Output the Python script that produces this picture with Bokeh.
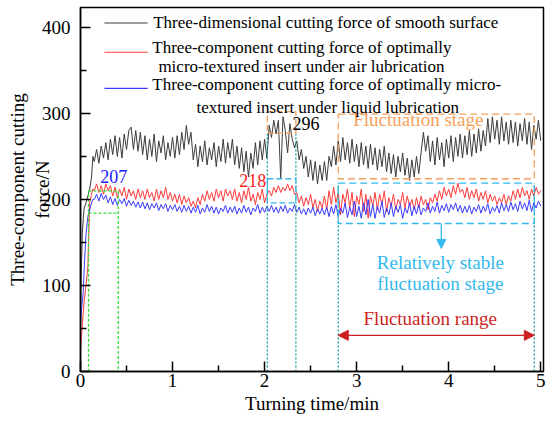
import numpy as np
from bokeh.plotting import figure
from bokeh.models import Label, Arrow, NormalHead, FixedTicker, Range1d
from bokeh.embed import file_html
from bokeh.resources import INLINE

# ---------------- data ----------------
time_ramp = [0.0, 0.01, 0.02, 0.03, 0.04, 0.06, 0.08, 0.10, 0.12, 0.135]
time_main = list(np.round(0.15 + 0.025 * np.arange(195), 3))   # 0.15 ... 5.0 min
time_min = time_ramp + time_main

smooth_ramp = [60, 120, 160, 178, 190, 196, 204, 212, 226, 250]
smooth_main = [
    244, 258, 242, 262, 248, 266, 246, 270, 252, 274, 250, 272, 248, 276, 258, 280, 284, 258, 280, 256,
    278, 252, 274, 246, 270, 250, 276, 244, 268, 254, 274, 246, 266, 250, 272, 248, 274, 252, 278, 258,
    286, 264, 278, 246, 264, 238, 262, 244, 268, 240, 260, 246, 266, 238, 262, 244, 270, 242, 266, 248,
    270, 240, 262, 236, 260, 232, 256, 226, 254, 236, 266, 240, 268, 246, 270, 248, 286, 272, 292, 276,
    292, 224, 296, 280, 254, 288, 270, 260, 268, 246, 258, 236, 250, 226, 246, 222, 244, 218, 240, 222,
    244, 222, 250, 238, 262, 240, 268, 244, 272, 246, 266, 242, 270, 244, 264, 238, 266, 240, 262, 236,
    264, 240, 260, 234, 258, 238, 262, 232, 254, 230, 252, 226, 250, 232, 254, 228, 248, 222, 246, 226,
    250, 230, 254, 278, 256, 274, 244, 268, 240, 272, 246, 266, 238, 270, 248, 274, 244, 272, 250, 276,
    248, 274, 252, 280, 250, 276, 254, 282, 256, 280, 262, 294, 266, 296, 270, 292, 264, 296, 268, 290,
    264, 292, 266, 290, 262, 288, 268, 294, 264, 290, 258, 286, 270, 292, 268,
]

air_ramp = [25, 40, 55, 68, 82, 100, 122, 196, 206, 212]
air_main = [
    210, 218, 208, 216, 206, 218, 210, 216, 204, 214, 202, 212, 204, 214, 200, 212, 204, 210, 200, 212,
    202, 210, 200, 212, 202, 208, 198, 212, 200, 210, 202, 214, 200, 208, 198, 206, 196, 206, 194, 204,
    196, 202, 192, 198, 190, 202, 194, 206, 198, 210, 200, 208, 198, 212, 202, 210, 198, 212, 204, 210,
    200, 212, 198, 208, 196, 210, 200, 214, 198, 206, 194, 208, 200, 212, 196, 206, 210, 204, 214, 208,
    216, 208, 214, 210, 218, 210, 216, 206, 208, 196, 204, 192, 202, 194, 206, 190, 200, 186, 198, 190,
    204, 188, 210, 194, 214, 196, 208, 182, 206, 196, 212, 190, 208, 180, 204, 194, 212, 186, 206, 178,
    204, 192, 208, 188, 206, 194, 210, 186, 202, 192, 206, 188, 200, 194, 208, 190, 204, 192, 200, 188,
    202, 190, 204, 194, 200, 188, 202, 196, 206, 198, 210, 200, 214, 204, 212, 202, 216, 206, 219, 208,
    212, 202, 214, 200, 210, 202, 212, 198, 208, 200, 210, 196, 206, 198, 204, 194, 202, 196, 206, 194,
    204, 198, 210, 200, 212, 202, 214, 204, 210, 200, 212, 204, 214, 206, 210,
]

liquid_ramp = [55, 70, 82, 92, 120, 160, 180, 188, 196, 200]
liquid_main = [
    200, 206, 198, 207, 200, 205, 196, 203, 194, 201, 193, 200, 195, 201, 192, 199, 193, 198, 191, 197,
    190, 197, 189, 196, 188, 195, 190, 196, 187, 194, 189, 195, 186, 193, 188, 194, 186, 192, 185, 193,
    186, 192, 184, 191, 185, 193, 183, 190, 185, 194, 186, 192, 184, 191, 183, 190, 186, 193, 184, 191,
    185, 192, 183, 190, 184, 193, 185, 191, 182, 190, 186, 194, 184, 191, 185, 192, 186, 193, 185, 191,
    184, 192, 186, 193, 184, 190, 186, 194, 185, 191, 183, 189, 182, 190, 184, 191, 181, 189, 183, 190,
    182, 191, 180, 192, 183, 194, 180, 190, 184, 196, 179, 191, 182, 198, 180, 192, 178, 196, 182, 200,
    180, 194, 178, 192, 184, 198, 179, 190, 182, 196, 180, 192, 185, 194, 178, 190, 184, 196, 181, 192,
    183, 194, 182, 190, 186, 196, 184, 192, 186, 197, 184, 193, 187, 195, 185, 194, 188, 196, 186, 193,
    184, 192, 185, 193, 183, 191, 186, 194, 184, 192, 186, 195, 183, 191, 186, 193, 184, 196, 187, 194,
    186, 197, 188, 195, 186, 198, 189, 196, 187, 199, 186, 196, 190, 198, 192,
]

smooth = smooth_ramp + smooth_main
air = air_ramp + air_main
liquid = liquid_ramp + liquid_main

x_ticks = [0, 1, 2, 3, 4, 5]
y_ticks = [0, 100, 200, 300, 400]

legend_labels = [
    ["Three-dimensional cutting force of smooth surface"],
    ["Three-component cutting force of optimally", "micro-textured insert under air lubrication"],
    ["Three-component cutting force of optimally micro-", "textured insert under liquid lubrication"],
]

# stage markers (min / N)
start_box = dict(left=0.087, right=0.41, bottom=184, top=210, inner=184)
peak_window = [2.03, 2.34]
peak_black_box = [277, 302]
peak_color_box = [196, 224]
stable_window = [2.80, 4.93]
stage_black_box = [224, 299]
stage_color_box = [172, 219]
peak_values = {"207": (0.36, 227), "218": (1.87, 222), "296": (2.45, 288)}

# ---------------- style ----------------
FONT = "Liberation Serif"
C_BLACK = "#3c3c3c"
C_RED = "#ff3b3b"
C_BLUE = "#3b3bff"
C_GREEN = "#33dd33"
C_ORANGE = "#f5a05a"
C_CYAN = "#33b9ee"
C_TEAL = "#1a9a9a"
C_DRED = "#cc1f1f"

p = figure(width=550, height=421, output_backend="svg", toolbar_location=None,
           x_range=Range1d(0, 5.03), y_range=Range1d(0, 423),
           min_border_left=80, min_border_right=7, min_border_top=7, min_border_bottom=50)
p.xgrid.visible = False
p.ygrid.visible = False
p.outline_line_color = "black"
p.outline_line_width = 1.5
p.background_fill_color = "white"
p.border_fill_color = "white"

for ax in (p.xaxis[0], p.yaxis[0]):
    ax.axis_line_width = 1.5
    ax.major_tick_in = 10
    ax.major_tick_out = 0
    ax.minor_tick_in = 6
    ax.minor_tick_out = 0
    ax.major_tick_line_width = 1.5
    ax.minor_tick_line_width = 1.5
    ax.major_label_text_font = FONT
    ax.major_label_text_font_size = "19px"
    ax.major_label_text_color = "black"
    ax.axis_label_text_font = FONT
    ax.axis_label_text_font_size = "19px"
    ax.axis_label_text_font_style = "normal"
    ax.axis_label_text_color = "black"
p.xaxis[0].ticker = FixedTicker(ticks=x_ticks, minor_ticks=[0.5, 1.5, 2.5, 3.5, 4.5])
p.yaxis[0].ticker = FixedTicker(ticks=y_ticks, minor_ticks=[50, 150, 250, 350])
p.xaxis[0].major_label_standoff = 2
p.yaxis[0].major_label_standoff = 10
p.xaxis[0].axis_label = "Turning time/min"
p.xaxis[0].axis_label_standoff = 3
p.yaxis[0].axis_label = "Three-component cutting\nforce/N"
p.yaxis[0].axis_label_standoff = -14

# series
p.line(time_min, smooth, line_color=C_BLACK, line_width=1)
p.line(time_min, air, line_color=C_RED, line_width=1)
p.line(time_min, liquid, line_color=C_BLUE, line_width=1)

# green start marker
b = start_box
p.quad(left=[b["left"]], right=[b["right"]], bottom=[0], top=[b["top"]], fill_color=None,
       line_color=C_GREEN, line_dash="3 2", line_width=1.3)
p.segment(x0=[b["left"]], x1=[b["right"]], y0=[b["inner"]], y1=[b["inner"]],
          line_color=C_GREEN, line_dash="3 2", line_width=1.3)

# teal dotted verticals
p.segment(x0=peak_window, x1=peak_window, y0=[0, 0], y1=[peak_black_box[0]] * 2,
          line_color=C_TEAL, line_dash="2 2", line_width=1.3)
p.segment(x0=stable_window, x1=stable_window, y0=[0, 0], y1=[stage_color_box[1]] * 2,
          line_color=C_TEAL, line_dash="2 2", line_width=1.3)

# boxes
p.quad(left=[peak_window[0]], right=[peak_window[1]], bottom=[peak_black_box[0]], top=[peak_black_box[1]],
       fill_color=None, line_color=C_ORANGE, line_dash="6 3", line_width=1.3)
p.quad(left=[peak_window[0]], right=[peak_window[1]], bottom=[peak_color_box[0]], top=[peak_color_box[1]],
       fill_color=None, line_color=C_CYAN, line_dash="6 3", line_width=1.3)
p.quad(left=[stable_window[0]], right=[stable_window[1]], bottom=[stage_black_box[0]], top=[stage_black_box[1]],
       fill_color=None, line_color=C_ORANGE, line_dash="7 4", line_width=1.3)
p.quad(left=[stable_window[0]], right=[stable_window[1]], bottom=[stage_color_box[0]], top=[stage_color_box[1]],
       fill_color=None, line_color=C_CYAN, line_dash="7 4", line_width=1.3)

# arrows
p.add_layout(Arrow(end=NormalHead(size=9, fill_color=C_CYAN, line_color=C_CYAN),
                   x_start=3.92, y_start=stage_color_box[0], x_end=3.92, y_end=143,
                   line_color=C_CYAN, line_width=1.3))
p.add_layout(Arrow(start=NormalHead(size=10, fill_color=C_DRED, line_color=C_DRED),
                   end=NormalHead(size=10, fill_color=C_DRED, line_color=C_DRED),
                   x_start=stable_window[0], y_start=42, x_end=stable_window[1], y_end=42,
                   line_color=C_DRED, line_width=1.3))

def lab(txt, x, y, color="black", size="19px", align="center", angle=0.0):
    p.add_layout(Label(x=x, y=y, text=txt, text_font=FONT, text_font_size=size, text_color=color,
                       text_align=align, text_baseline="middle", angle=angle))

lab("Fluctuation stage", 3.67, 293, C_ORANGE)
lab("Relatively stable", 3.91, 127, C_CYAN)
lab("fluctuation stage", 3.91, 102, C_CYAN)
lab("Fluctuation range", 3.80, 62, C_DRED)
lab("207", *peak_values["207"], color="#2020ff", size="18px")
lab("218", *peak_values["218"], color="#ff2020", size="18px")
lab("296", *peak_values["296"], color="black", size="18px")

# legend (manual, multi-line)
p.segment(x0=[0.26] * 3, x1=[0.73] * 3, y0=[405, 371, 329], y1=[405, 371, 329],
          line_color=[C_BLACK, C_RED, C_BLUE], line_width=1.2)
lab(legend_labels[0][0], 0.79, 405, size="17px", align="left")
lab(legend_labels[1][0], 0.78, 377, size="17px", align="left")
lab(legend_labels[1][1], 2.40, 354, size="17px")
lab(legend_labels[2][0], 0.78, 334, size="17px", align="left")
lab(legend_labels[2][1], 2.685, 307, size="17px")

open("out.html", "w").write(file_html(p, INLINE))
